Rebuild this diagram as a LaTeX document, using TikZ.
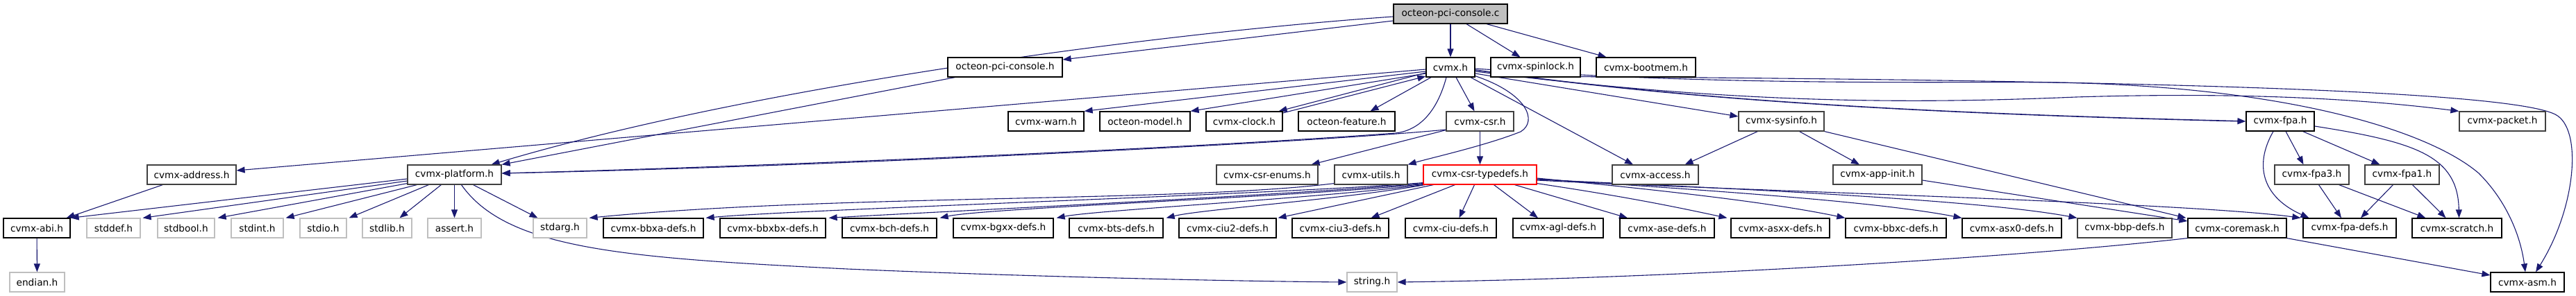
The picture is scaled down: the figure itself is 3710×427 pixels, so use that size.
\documentclass[tikz,border=0pt]{standalone}
\usepackage{fontspec}
\setmainfont{DejaVu Sans}
\usetikzlibrary{arrows.meta,calc}
\definecolor{edgeblue}{HTML}{191970}
\definecolor{extgray}{HTML}{BFBFBF}
\definecolor{dgray}{HTML}{404040}
\definecolor{topfill}{HTML}{BFBFBF}
\pgfdeclarelayer{bg}
\pgfsetlayers{bg,main}
\tikzset{
 nbox/.style={draw=black, line width=1.2pt, fill=white, minimum height=28pt, inner sep=0pt, font=\fontsize{13.7}{16}\selectfont, text=black},
 grbox/.style={nbox, draw=dgray},
 extbox/.style={nbox, draw=extgray},
 topbox/.style={nbox, fill=topfill},
 redbox/.style={nbox, draw=red},
 dep/.style={draw=edgeblue, line width=1.1pt, -{Triangle[length=12pt,width=9pt]}},
}
\begin{document}
\begin{tikzpicture}[x=1pt,y=-1pt]
\useasboundingbox (0,0) rectangle (3710,427);
% row 0
\node[topbox, minimum width=164pt] (c) at (2089,20) {octeon-pci-console.c};
% row 1
\node[nbox, minimum width=165pt] (pcih) at (1447.5,97) {octeon-pci-console.h};
\node[nbox, minimum width=70pt] (cvmx) at (2089,97) {cvmx.h};
\node[nbox, minimum width=129pt] (spin) at (2211.5,97) {cvmx-spinlock.h};
\node[nbox, minimum width=143pt] (boot) at (2370.5,97) {cvmx-bootmem.h};
% row 2
\node[nbox, minimum width=109pt] (warn) at (1506.5,175) {cvmx-warn.h};
\node[nbox, minimum width=130pt] (model) at (1649,175) {octeon-model.h};
\node[nbox, minimum width=110pt] (clock) at (1792,175) {cvmx-clock.h};
\node[nbox, minimum width=139pt] (feature) at (1939.5,175) {octeon-feature.h};
\node[grbox, minimum width=97pt] (csr) at (2131.5,175) {cvmx-csr.h};
\node[grbox, minimum width=123pt] (sysinfo) at (2565.5,175) {cvmx-sysinfo.h};
\node[nbox, minimum width=98pt] (fpa) at (3284,175) {cvmx-fpa.h};
\node[grbox, minimum width=124pt] (packet) at (3604,175) {cvmx-packet.h};
% row 3
\node[grbox, minimum width=128pt] (address) at (276,252) {cvmx-address.h};
\node[grbox, minimum width=135pt] (platform) at (654.5,252) {cvmx-platform.h};
\node[grbox, minimum width=146pt] (enums) at (1825,252) {cvmx-csr-enums.h};
\node[grbox, minimum width=105pt] (utils) at (1974.5,252) {cvmx-utils.h};
\node[redbox, minimum width=163pt] (typedefs) at (2131.5,252) {cvmx-csr-typedefs.h};
\node[grbox, minimum width=124pt] (access) at (2384,252) {cvmx-access.h};
\node[grbox, minimum width=128pt] (appinit) at (2704,252) {cvmx-app-init.h};
\node[grbox, minimum width=107pt] (fpa3) at (3329.5,252) {cvmx-fpa3.h};
\node[grbox, minimum width=107pt] (fpa1) at (3459.5,252) {cvmx-fpa1.h};
% row 4
\node[nbox, minimum width=96pt] (abi) at (53,329) {cvmx-abi.h};
\node[extbox, minimum width=77pt] (stddef) at (163.5,329) {stddef.h};
\node[extbox, minimum width=82pt] (stdbool) at (268,329) {stdbool.h};
\node[extbox, minimum width=75pt] (stdint) at (370.5,329) {stdint.h};
\node[extbox, minimum width=67pt] (stdio) at (465.5,329) {stdio.h};
\node[extbox, minimum width=71pt] (stdlib) at (557.5,329) {stdlib.h};
\node[extbox, minimum width=77pt] (assert) at (654.5,329) {assert.h};
\node[extbox, minimum width=77pt] (stdarg) at (806.5,329) {stdarg.h};
\node[nbox, minimum width=144pt] (bbxa) at (941,329) {cvmx-bbxa-defs.h};
\node[nbox, minimum width=152pt] (bbxbx) at (1113,329) {cvmx-bbxbx-defs.h};
\node[nbox, minimum width=136pt] (bch) at (1281,329) {cvmx-bch-defs.h};
\node[nbox, minimum width=144pt] (bgxx) at (1445,329) {cvmx-bgxx-defs.h};
\node[nbox, minimum width=135pt] (bts) at (1607.5,329) {cvmx-bts-defs.h};
\node[nbox, minimum width=140pt] (ciu2) at (1768,329) {cvmx-ciu2-defs.h};
\node[nbox, minimum width=139pt] (ciu3) at (1930.5,329) {cvmx-ciu3-defs.h};
\node[nbox, minimum width=131pt] (ciu) at (2089.5,329) {cvmx-ciu-defs.h};
\node[nbox, minimum width=130pt] (agl) at (2244,329) {cvmx-agl-defs.h};
\node[nbox, minimum width=136pt] (ase) at (2401,329) {cvmx-ase-defs.h};
\node[nbox, minimum width=142pt] (asxx) at (2564,329) {cvmx-asxx-defs.h};
\node[nbox, minimum width=145pt] (bbxc) at (2730.5,329) {cvmx-bbxc-defs.h};
\node[nbox, minimum width=143pt] (asx0) at (2897.5,329) {cvmx-asx0-defs.h};
\node[grbox, minimum width=136pt] (bbp) at (3060,329) {cvmx-bbp-defs.h};
\node[nbox, minimum width=142pt] (coremask) at (3222,329) {cvmx-coremask.h};
\node[nbox, minimum width=134pt] (fpadefs) at (3384,329) {cvmx-fpa-defs.h};
\node[nbox, minimum width=129pt] (scratch) at (3538.5,329) {cvmx-scratch.h};
% row 5
\node[extbox, minimum width=79pt] (endian) at (53.5,407) {endian.h};
\node[extbox, minimum width=72pt] (string) at (1976,407) {string.h};
\node[nbox, minimum width=106pt] (asm) at (3640,407) {cvmx-asm.h};

\begin{pgfonlayer}{bg}
% from octeon-pci-console.c
\draw[dep] (c) -- (cvmx);
\draw[dep] ($(c.south)+(23,0)$) -- ($(spin.north)+(-22,0)$);
\draw[dep] ($(c.south)+(52,0)$) -- ($(boot.north)+(-57,0)$);
\draw[dep] ($(c.west)+(0,10)$) -- ($(pcih.east)+(0,-11)$);
\draw[dep] ($(c.west)+(0,4)$) .. controls (1700,45) and (1100,120) .. ($(platform.north east)+(-15,0)$);
% octeon-pci-console.h
\draw[dep] ($(pcih.south west)+(11,0)$) -- (platform.north east);
% spinlock
\draw[dep] ($(spin.south east)+(0,-1)$) .. controls (2900,115) and (3600,125) .. (3680,165) .. controls (3720,185) and (3710,300) .. ($(asm.north)+(12,0)$);
% cvmx.h
\draw[dep] ($(cvmx.west)+(0,3)$) -- ($(address.east)+(0,-6)$);
\draw[dep] ($(cvmx.south)+(-6,0)$) .. controls (2070,160) and (2045,188) .. (2010,192) .. controls (1700,215) and (1100,240) .. ($(platform.east)+(0,-2)$);
\draw[dep] ($(cvmx.west)+(0,6)$) -- (warn.north east);
\draw[dep] ($(cvmx.west)+(0,9)$) -- (model.north east);
\draw[dep] ($(cvmx.west)+(0,8)$) -- ($(clock.north east)+(-6,0)$);
\draw[dep] ($(clock.east)+(0,-12)$) -- ($(cvmx.west)+(0,13)$);
\draw[dep] ($(cvmx.south)+(-28,0)$) -- ($(feature.north)+(34,0)$);
\draw[dep] ($(cvmx.south)+(8,0)$) -- ($(csr.north)+(-8,0)$);
\draw[dep] ($(cvmx.south east)+(0,-2)$) .. controls (2200,135) and (2215,175) .. (2190,190) .. controls (2140,210) and (2060,228) .. (utils.north east);
\draw[dep] ($(cvmx.south)+(29,0)$) -- ($(access.north)+(-32,0)$);
\draw[dep] ($(cvmx.east)+(0,9)$) -- ($(sysinfo.west)+(0,-7)$);
\draw[dep, line width=1.6pt] ($(cvmx.east)+(0,4)$) .. controls (2400,140) and (2700,162) .. (fpa.west);
\draw[dep] ($(cvmx.east)+(0,6)$) .. controls (2500,150) and (2750,150) .. (2990,140) .. controls (3250,132) and (3420,145) .. (packet.north west);
\draw[dep] ($(cvmx.east)+(0,2)$) .. controls (2500,125) and (2800,117) .. (2960,119) .. controls (3300,125) and (3500,190) .. (3570,250) .. controls (3610,290) and (3630,340) .. ($(asm.north)+(-3,0)$);
% sysinfo, app-init
\draw[dep] ($(sysinfo.south west)+(28,0)$) -- ($(access.north east)+(-20,0)$);
\draw[dep] ($(sysinfo.south)+(26,0)$) -- ($(appinit.north)+(-26,0)$);
\draw[dep] (sysinfo.south east) -- ($(coremask.north west)+(-2,0)$);
\draw[dep] ($(appinit.east)+(0,8)$) -- ($(coremask.west)+(0,-10)$);
% csr
\draw[dep] ($(csr.west)+(0,12)$) .. controls (1900,205) and (1200,240) .. ($(platform.east)+(0,-2)$);
\draw[dep] ($(csr.south west)+(0,-2)$) -- ($(enums.north east)+(-10,0)$);
\draw[dep] (csr) -- (typedefs);
% utils
\draw[dep] ($(utils.south west)+(0,-2)$) .. controls (1700,292) and (1200,280) .. ($(stdarg.north east)+(3,0)$);
% typedefs
\draw[dep] ($(typedefs.south west)+(0,-3)$) .. controls (1850,280) and (1150,302) .. ($(bbxa.north east)+(3,0)$);
\draw[dep] ($(typedefs.south west)+(0,-2)$) .. controls (1850,282) and (1300,308) .. ($(bbxbx.north east)+(4,0)$);
\draw[dep] ($(typedefs.south west)+(0,-1)$) .. controls (1870,284) and (1420,300) .. ($(bch.north east)+(4,0)$);
\draw[dep] ($(typedefs.south west)+(0,0)$) .. controls (1900,286) and (1580,303) .. ($(bgxx.north east)+(4,0)$);
\draw[dep] ($(typedefs.south west)+(3,0)$) .. controls (1930,288) and (1730,302) .. ($(bts.north east)+(4,0)$);
\draw[dep] ($(typedefs.south west)+(15,0)$) -- ($(ciu2.north east)+(2,0)$);
\draw[dep] ($(typedefs.south)+(-36,0)$) -- ($(ciu3.north)+(44,0)$);
\draw[dep] ($(typedefs.south)+(-8,0)$) -- ($(ciu.north)+(12,0)$);
\draw[dep] ($(typedefs.south)+(20,0)$) -- ($(agl.north)+(-29,0)$);
\draw[dep] ($(typedefs.south)+(50,0)$) -- ($(ase.north)+(-57,0)$);
\draw[dep] ($(typedefs.south east)+(0,-2)$) .. controls (2350,285) and (2420,300) .. ($(asxx.north west)+(-5,0)$);
\draw[dep] ($(typedefs.east)+(0,5)$) .. controls (2400,275) and (2550,292) .. ($(bbxc.north west)+(0,0)$);
\draw[dep] ($(typedefs.east)+(0,6)$) .. controls (2450,274) and (2700,290) .. ($(asx0.north west)+(0,0)$);
\draw[dep] ($(typedefs.east)+(0,7)$) .. controls (2500,272) and (2850,288) .. ($(bbp.north west)+(0,0)$);
\draw[dep] ($(typedefs.east)+(0,8)$) .. controls (2500,275) and (3150,292) .. ($(fpadefs.north west)+(-3,0)$);
% platform
\draw[dep] ($(platform.west)+(0,6)$) -- (abi.north east);
\draw[dep] ($(platform.west)+(0,9)$) -- ($(stddef.north east)+(3,0)$);
\draw[dep] ($(platform.south west)+(0,-2)$) -- ($(stdbool.north east)+(4,0)$);
\draw[dep] ($(platform.south west)+(14,0)$) -- ($(stdint.north east)+(3,0)$);
\draw[dep] ($(platform.south west)+(31,0)$) -- ($(stdio.north east)+(3,0)$);
\draw[dep] ($(platform.south west)+(49,0)$) -- ($(stdlib.north)+(18,0)$);
\draw[dep] (platform) -- (assert);
\draw[dep] ($(platform.south)+(27,0)$) -- ($(stdarg.north)+(-32,0)$);
\draw[dep] ($(platform.south)+(10,0)$) .. controls (730,360) and (900,372) .. (1220,388) .. controls (1500,400) and (1800,406) .. (string.west);
% address, abi
\draw[dep] ($(address.south west)+(23,0)$) -- ($(abi.north east)+(-6,0)$);
\draw[dep] (abi) -- (endian);
% coremask
\draw[dep] (coremask.south east) -- ($(asm.west)+(0,-10)$);
\draw[dep] (coremask.south west) .. controls (2900,372) and (2400,402) .. (string.east);
% fpa family
\draw[dep] ($(fpa.south)+(8,0)$) -- ($(fpa3.north)+(-12,0)$);
\draw[dep] ($(fpa.south east)+(-17,0)$) -- ($(fpa1.north)+(-32,0)$);
\draw[dep] ($(fpa.south)+(-10,0)$) .. controls (3245,240) and (3260,285) .. ($(fpadefs.north west)+(9,0)$);
\draw[dep] ($(fpa.east)+(0,7)$) .. controls (3480,205) and (3540,225) .. ($(scratch.north)+(3,0)$);
\draw[dep] ($(fpa3.south)+(10,0)$) -- ($(fpadefs.north)+(-12,0)$);
\draw[dep] ($(fpa3.south east)+(-15,0)$) -- ($(scratch.north west)+(20,0)$);
\draw[dep] ($(fpa1.south)+(-13,0)$) -- ($(fpadefs.north)+(16,0)$);
\draw[dep] ($(fpa1.south)+(15,0)$) -- ($(scratch.north)+(-16,0)$);
\end{pgfonlayer}
\end{tikzpicture}
\end{document}
